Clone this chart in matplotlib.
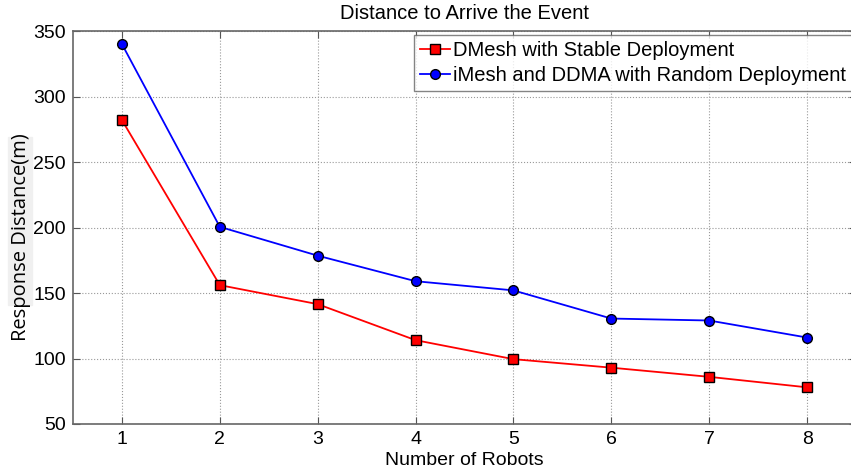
import matplotlib.pyplot as plt
import matplotlib.patches as mpatches
import numpy as np

plt.rcParams['font.family'] = ['Liberation Sans', 'DejaVu Sans']

# %% data
robots = [1, 2, 3, 4, 5, 6, 7, 8]
dmesh = [282, 156, 141.5, 114, 99.5, 93, 86, 78]
imesh = [340, 200.5, 178.5, 159, 152, 130.5, 129, 116]
lbl_dmesh = 'DMesh with Stable Deployment'
lbl_imesh = 'iMesh and DDMA with Random Deployment'

# %% plot
W, H = 851, 475
fig = plt.figure(figsize=(W / 100, H / 100), dpi=100)
ax = fig.add_axes([73 / W, 51 / H, 783 / W, 393 / H])

# fondo gris claro detras del ylabel (como en la figura original)
fig.patches.append(mpatches.Rectangle((8 / W, 170 / H), 24 / W, 168 / H,
                                      transform=fig.transFigure,
                                      color='#f0f0f0', zorder=-5))

ax.plot(robots, dmesh, color='red', lw=1.3, marker='s', ms=7,
        mfc='red', mec='black', mew=1, label=lbl_dmesh)
ax.plot(robots, imesh, color='blue', lw=1.3, marker='o', ms=7,
        mfc='blue', mec='black', mew=1, label=lbl_imesh)

ax.set_xlim(0.5, 8.5)
ax.set_ylim(50, 350)
ax.set_xticks(robots)
ax.set_yticks(np.arange(50, 351, 50))
ax.grid(True, ls=':', color='#999999', lw=0.8)
ax.tick_params(direction='in', top=True, right=True, labelsize=14,
               length=5, color='#555555', pad=5)
for s in ax.spines.values():
    s.set_color('#666666')
    s.set_linewidth(1.2)

ax.set_xlabel('Number of Robots', fontsize=14, labelpad=3)
ax.set_ylabel('Response Distance(m)', fontsize=14.5,
              family=['Open Sans', 'DejaVu Sans'])
ax.yaxis.set_label_coords(-42 / 783, 0.475)
ax.set_title('Distance to Arrive the Event', fontsize=14.5, pad=9)
leg = ax.legend(loc='upper right', fontsize=14.5, frameon=True, fancybox=False,
                edgecolor='#666666', borderpad=0.3, labelspacing=0.3,
                handlelength=1.5, handletextpad=0.15, borderaxespad=0.2)
leg.get_frame().set_linewidth(1.0)
leg.set_zorder(10)

fig.savefig('out.png', dpi=100)
